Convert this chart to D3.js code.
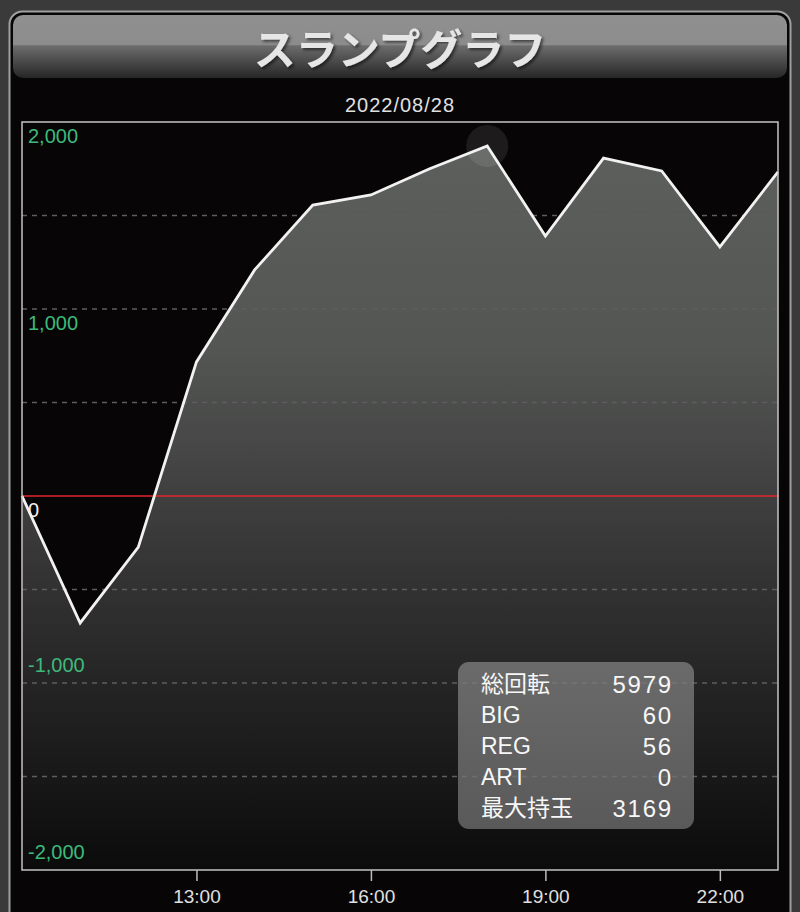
<!DOCTYPE html>
<html>
<head>
<meta charset="utf-8">
<script src="https://cdn.jsdelivr.net/npm/d3@7"></script>
<style>
  html, body { margin: 0; padding: 0; background: #3a3a3a; }
  svg { display: block; }
</style>
</head>
<body>
<div id="chart"></div>
<script>
// ---- data ----
const titleText = "スランプグラフ";
const dateText = "2022/08/28";
const hours = [10, 11, 12, 13, 14, 15, 16, 17, 18, 19, 20, 21, 22, 23];
const values = [0, -679, -273, 717, 1209, 1556, 1610, 1749, 1872, 1390, 1807, 1738, 1332, 1733];
const yLabelValues = [2000, 1000, 0, -1000, -2000];
const gridValues = [1500, 1000, 500, -500, -1000, -1500];
const xTickHours = [13, 16, 19, 22];
const xTickLabels = ["13:00", "16:00", "19:00", "22:00"];
const statLabels = ["総回転", "BIG", "REG", "ART", "最大持玉"];
const statValues = [5979, 60, 56, 0, 3169];

// ---- layout ----
const W = 800, H = 912;
const plot = { left: 22, right: 778, top: 122, bottom: 870 };

const svg = d3.select("#chart").append("svg").attr("width", W).attr("height", H);
const defs = svg.append("defs");

// gradients
const tg = defs.append("linearGradient").attr("id", "titleGrad")
  .attr("x1", 0).attr("y1", 0).attr("x2", 0).attr("y2", 1);
tg.append("stop").attr("offset", "0%").attr("stop-color", "#909090");
tg.append("stop").attr("offset", "47%").attr("stop-color", "#8c8c8c");
tg.append("stop").attr("offset", "49%").attr("stop-color", "#6c6c6c");
tg.append("stop").attr("offset", "100%").attr("stop-color", "#262626");

const ag = defs.append("linearGradient").attr("id", "areaGrad")
  .attr("gradientUnits", "userSpaceOnUse")
  .attr("x1", 0).attr("y1", plot.top).attr("x2", 0).attr("y2", plot.bottom);
ag.append("stop").attr("offset", "0%").attr("stop-color", "#5e605e");
ag.append("stop").attr("offset", "30%").attr("stop-color", "#545654");
ag.append("stop").attr("offset", "60%").attr("stop-color", "#343434");
ag.append("stop").attr("offset", "100%").attr("stop-color", "#0b0b0b");

const bg = defs.append("linearGradient").attr("id", "boxGrad")
  .attr("x1", 0).attr("y1", 0).attr("x2", 0).attr("y2", 1);
bg.append("stop").attr("offset", "0%").attr("stop-color", "rgba(125,125,125,0.78)");
bg.append("stop").attr("offset", "100%").attr("stop-color", "rgba(110,110,110,0.78)");

const sh = defs.append("filter").attr("id", "shadow").attr("x", "-10%").attr("y", "-20%").attr("width", "120%").attr("height", "150%");
sh.append("feDropShadow").attr("dx", 2).attr("dy", 2).attr("stdDeviation", 1.5)
  .attr("flood-color", "#000").attr("flood-opacity", 0.55);

// background & frame
svg.append("rect").attr("width", W).attr("height", H).attr("fill", "#3a3a3a");
svg.append("rect").attr("x", 9.5).attr("y", 11.5).attr("width", 781).attr("height", 960)
  .attr("rx", 13).attr("fill", "#070505").attr("stroke", "#a0a0a0").attr("stroke-width", 2);
svg.append("rect").attr("x", 13).attr("y", 15).attr("width", 774).attr("height", 63)
  .attr("rx", 10).attr("fill", "url(#titleGrad)");

svg.append("text").attr("x", 400).attr("y", 46)
  .attr("text-anchor", "middle").attr("dominant-baseline", "central")
  .attr("font-family", "'Noto Sans CJK JP', sans-serif").attr("font-weight", 700)
  .attr("font-size", 42).attr("fill", "#e6e6e6").attr("filter", "url(#shadow)")
  .text(titleText);

svg.append("text").attr("x", 400).attr("y", 105)
  .attr("text-anchor", "middle").attr("dominant-baseline", "central")
  .attr("font-family", "'Liberation Sans', Arial, sans-serif")
  .attr("font-size", 20).attr("letter-spacing", 1).attr("fill", "#e0e0e0")
  .text(dateText);

// scales
const x = d3.scaleLinear().domain([hours[0], hours[hours.length - 1]]).range([plot.left, plot.right]);
const y = d3.scaleLinear().domain([-2000, 2000]).range([plot.bottom, plot.top]);

// plot background
svg.append("rect").attr("x", plot.left).attr("y", plot.top)
  .attr("width", plot.right - plot.left).attr("height", plot.bottom - plot.top)
  .attr("fill", "#070505");

const pts = hours.map((h, i) => ({ h, v: values[i] }));

// area
svg.append("path").datum(pts)
  .attr("d", d3.area().x(d => x(d.h)).y0(plot.bottom).y1(d => y(d.v)))
  .attr("fill", "url(#areaGrad)");

// gridlines
svg.append("g").selectAll("line").data(gridValues).join("line")
  .attr("x1", plot.left).attr("x2", plot.right)
  .attr("y1", d => y(d)).attr("y2", d => y(d))
  .attr("stroke", "#5e5e5e").attr("stroke-width", 1.5).attr("stroke-dasharray", "5,5");

// zero line
svg.append("line").attr("x1", plot.left).attr("x2", plot.right)
  .attr("y1", y(0)).attr("y2", y(0)).attr("stroke", "#e3262b").attr("stroke-width", 1.5);

// line
svg.append("path").datum(pts)
  .attr("d", d3.line().x(d => x(d.h)).y(d => y(d.v)))
  .attr("fill", "none").attr("stroke", "#f2f2f2").attr("stroke-width", 2.8)
  .attr("stroke-linejoin", "miter");

// highlight circle at max
const maxIdx = d3.maxIndex(values);
svg.append("circle").attr("cx", x(hours[maxIdx])).attr("cy", y(values[maxIdx]))
  .attr("r", 21).attr("fill", "rgba(255,255,255,0.09)");

// plot border
svg.append("rect").attr("x", plot.left).attr("y", plot.top)
  .attr("width", plot.right - plot.left).attr("height", plot.bottom - plot.top)
  .attr("fill", "none").attr("stroke", "#c4c4c4").attr("stroke-width", 1.5);

// y labels
const fmt = v => d3.format(",")(v).replace("\u2212", "-");
svg.append("g").selectAll("text").data(yLabelValues).join("text")
  .attr("x", 28)
  .attr("y", d => d >= 0 ? y(d) + 14 : y(d) - 18)
  .attr("dominant-baseline", "central")
  .attr("font-family", "'Liberation Sans', Arial, sans-serif")
  .attr("font-size", 20)
  .attr("fill", d => d === 0 ? "#f0f0f0" : "#3dba7a")
  .text(fmt);

// x axis
const xAxis = svg.append("g").attr("transform", `translate(0,${plot.bottom})`)
  .call(d3.axisBottom(x).tickValues(xTickHours).tickFormat((d, i) => xTickLabels[i]).tickSize(11).tickPadding(9));
xAxis.select(".domain").remove();
xAxis.selectAll(".tick line").attr("stroke", "#bdbdbd").attr("stroke-width", 1.5);
xAxis.selectAll(".tick text").attr("fill", "#e0e0e0")
  .attr("font-family", "'Liberation Sans', Arial, sans-serif").attr("font-size", 19);

// info box
const box = { x: 458, y: 662, w: 236, h: 167 };
svg.append("rect").attr("x", box.x).attr("y", box.y).attr("width", box.w).attr("height", box.h)
  .attr("rx", 11).attr("fill", "url(#boxGrad)");
const rows = svg.append("g").selectAll("g").data(statLabels).join("g")
  .attr("transform", (d, i) => `translate(0,${684 + i * 31})`);
rows.append("text").attr("x", 481).attr("dominant-baseline", "central")
  .attr("font-family", "'Liberation Sans', 'Noto Sans CJK JP', sans-serif")
  .attr("font-size", 23).attr("fill", "#f7f7f7").text(d => d);
rows.append("text").attr("x", 673).attr("text-anchor", "end").attr("dominant-baseline", "central")
  .attr("font-family", "'Liberation Sans', Arial, sans-serif")
  .attr("font-size", 24).attr("letter-spacing", 1.8).attr("fill", "#f7f7f7")
  .text((d, i) => statValues[i]);
</script>
</body>
</html>
